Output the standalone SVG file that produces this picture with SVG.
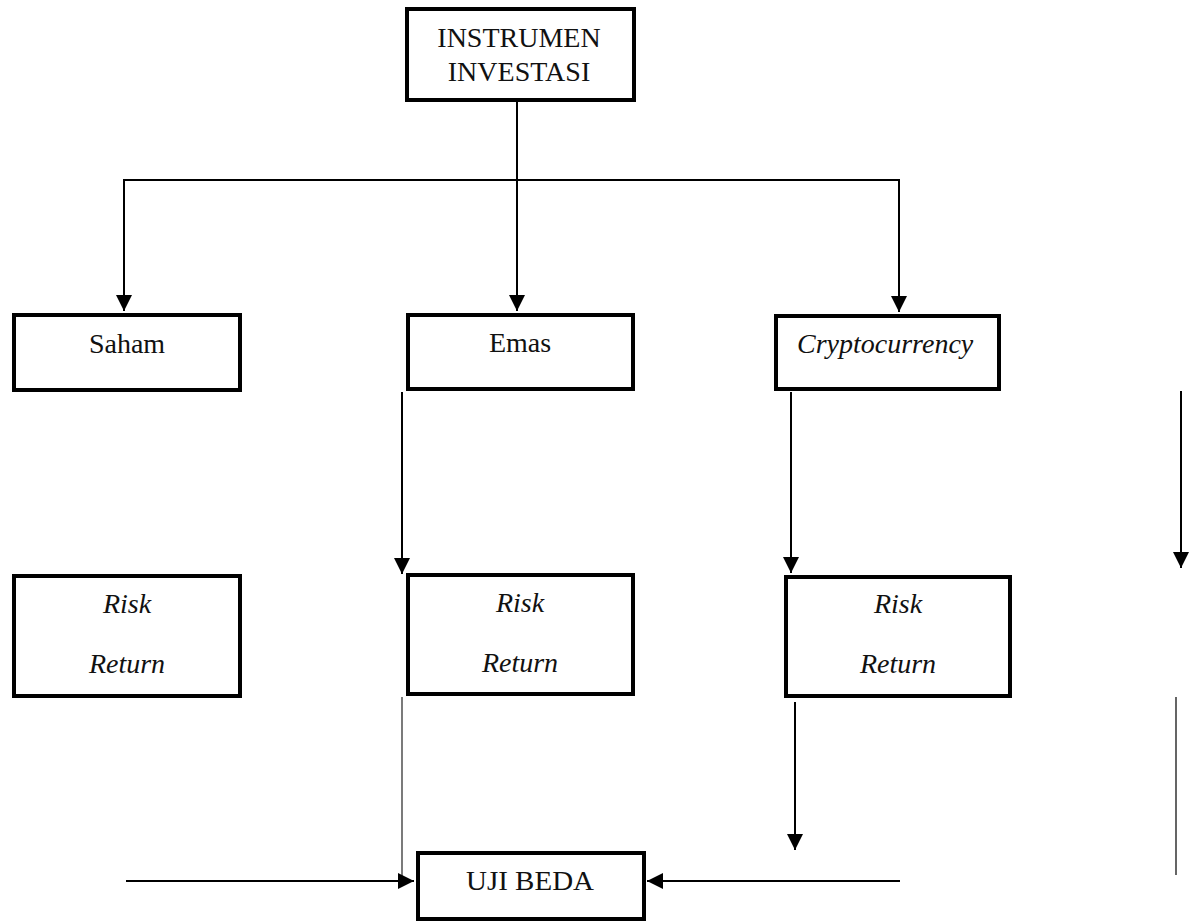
<svg xmlns="http://www.w3.org/2000/svg" width="1197" height="921" viewBox="0 0 1197 921">
<style>
.box{fill:#fff;stroke:#000;stroke-width:4}
.t{font-family:"Liberation Serif","Times New Roman",serif;font-size:28px;fill:#111}
.i{font-style:italic}
.c{stroke:#000;stroke-width:2;fill:none}
.thin{stroke:#222;stroke-width:1.2;fill:none}
.gray{stroke:#555;stroke-width:1.8;fill:none}
</style>
<defs>
<marker id="ah" markerUnits="userSpaceOnUse" markerWidth="16" markerHeight="16" refX="16" refY="8" orient="auto">
<path d="M0,0 L16,8 L0,16 Z" fill="#000"/>
</marker>
</defs>
<rect width="1197" height="921" fill="#fff"/>
<g id="connectors">
<line class="c" x1="517" y1="102" x2="517" y2="311" marker-end="url(#ah)"/>
<line class="c" x1="123" y1="180" x2="900" y2="180"/>
<line class="c" x1="124" y1="179" x2="124" y2="311" marker-end="url(#ah)"/>
<line class="c" x1="899" y1="179" x2="899" y2="312" marker-end="url(#ah)"/>
<line class="c" x1="402" y1="392" x2="402" y2="574" marker-end="url(#ah)"/>
<line class="c" x1="791" y1="392" x2="791" y2="573" marker-end="url(#ah)"/>
<line class="c" x1="1181" y1="391" x2="1181" y2="568" marker-end="url(#ah)"/>
<line class="thin" x1="402" y1="697" x2="402" y2="878"/>
<line class="c" x1="795" y1="702" x2="795" y2="850" marker-end="url(#ah)"/>
<line class="c" x1="126" y1="881" x2="414" y2="881" marker-end="url(#ah)"/>
<line class="c" x1="900" y1="881" x2="647" y2="881" marker-end="url(#ah)"/>
<line class="gray" x1="1176" y1="697" x2="1176" y2="875"/>
</g>
<g id="instrumen">
<rect class="box" x="407" y="9" width="227" height="91"/>
<text class="t" x="519" y="47" text-anchor="middle">INSTRUMEN</text>
<text class="t" x="519" y="81" text-anchor="middle">INVESTASI</text>
</g>
<g id="saham">
<rect class="box" x="14" y="315" width="226" height="75"/>
<text class="t" x="127" y="353" text-anchor="middle">Saham</text>
</g>
<g id="emas">
<rect class="box" x="408" y="315" width="225" height="74"/>
<text class="t" x="520" y="352" text-anchor="middle">Emas</text>
</g>
<g id="crypto">
<rect class="box" x="776" y="316" width="223" height="73"/>
<text class="t i" x="797" y="353">Cryptocurrency</text>
</g>
<g id="risk-saham">
<rect class="box" x="14" y="576" width="226" height="120"/>
<text class="t i" x="127" y="613" text-anchor="middle">Risk</text>
<text class="t i" x="127" y="673" text-anchor="middle">Return</text>
</g>
<g id="risk-emas">
<rect class="box" x="408" y="575" width="225" height="119"/>
<text class="t i" x="520" y="612" text-anchor="middle">Risk</text>
<text class="t i" x="520" y="672" text-anchor="middle">Return</text>
</g>
<g id="risk-crypto">
<rect class="box" x="786" y="577" width="224" height="119"/>
<text class="t i" x="898" y="613" text-anchor="middle">Risk</text>
<text class="t i" x="898" y="673" text-anchor="middle">Return</text>
</g>
<g id="uji-beda">
<rect class="box" x="418" y="853" width="226" height="66"/>
<text class="t" x="530" y="890" text-anchor="middle" textLength="128" lengthAdjust="spacingAndGlyphs">UJI BEDA</text>
</g>
</svg>
